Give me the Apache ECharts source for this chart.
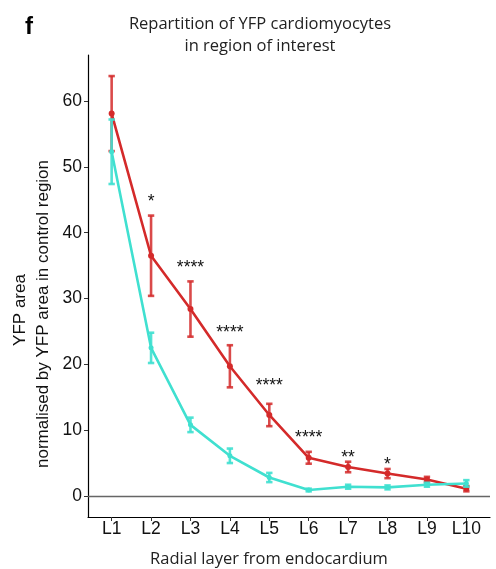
<!DOCTYPE html>
<html><head><meta charset="utf-8">
<script src="https://cdn.jsdelivr.net/npm/echarts@6/dist/echarts.min.js"></script>
<style>html,body{margin:0;padding:0;background:#fff}#c{width:496px;height:569px}</style>
</head><body><div id="c"></div>
<script>
const categories = ['L1','L2','L3','L4','L5','L6','L7','L8','L9','L10'];
const redMean = [58.1, 36.5, 28.4, 19.7, 12.3, 5.8, 4.4, 3.4, 2.5, 1.1];
const redErr  = [5.7, 6.1, 4.2, 3.2, 1.7, 0.9, 0.8, 0.7, 0.4, 0.4];
const cyanMean = [52.3, 22.5, 10.8, 6.1, 2.8, 0.9, 1.4, 1.3, 1.7, 1.9];
const cyanErr  = [4.9, 2.3, 1.1, 1.1, 0.7, 0.2, 0.3, 0.3, 0.3, 0.5];
const sigLabels = ['', '*', '****', '****', '****', '****', '**', '*', '', ''];
const sigY = [null, 45.4, 35.4, 25.5, 17.5, 9.6, 6.5, 5.5, null, null];
const yTicks = [0, 10, 20, 30, 40, 50, 60];

const RED = '#d42a2a', CYAN = '#40e0d0';
const xs = categories.map((c, i) => i + 1);

function errRender(color, opacity) {
  return function (params, api) {
    const x = api.value(0), lo = api.value(1), hi = api.value(2);
    const a = api.coord([x, lo]), b = api.coord([x, hi]);
    const w = 3.2;
    const st = { stroke: color, lineWidth: 2.6, opacity: opacity };
    return { type: 'group', children: [
      { type: 'line', shape: { x1: a[0], y1: a[1], x2: b[0], y2: b[1] }, style: st },
      { type: 'line', shape: { x1: a[0] - w, y1: a[1], x2: a[0] + w, y2: a[1] }, style: st },
      { type: 'line', shape: { x1: b[0] - w, y1: b[1], x2: b[0] + w, y2: b[1] }, style: st }
    ]};
  };
}

const sigData = [];
xs.forEach((x, i) => { if (sigY[i] !== null) sigData.push([x, sigY[i], sigLabels[i]]); });

const chart = echarts.init(document.getElementById('c'), null, { renderer: 'canvas' });
chart.setOption({
  animation: false,
  backgroundColor: '#fff',
  grid: { left: 88, right: 6, top: 55, bottom: 52 },
  xAxis: {
    type: 'value', min: 0.4, max: 10.6,
    axisLine: { onZero: false, lineStyle: { color: '#000', width: 1.2 } },
    axisTick: { show: true, length: 4, customValues: xs, lineStyle: { color: '#333' } },
    axisLabel: { customValues: xs, formatter: v => categories[Math.round(v) - 1], margin: 3,
      fontFamily: 'Liberation Sans', fontSize: 17.5, color: '#111' },
    splitLine: { show: false }
  },
  yAxis: {
    type: 'value', min: -3.2, max: 67,
    axisLine: { show: true, onZero: false, lineStyle: { color: '#000', width: 1.2 } },
    axisTick: { show: true, length: 4, customValues: yTicks, lineStyle: { color: '#333' } },
    axisLabel: { customValues: yTicks, margin: 6, fontFamily: 'Liberation Sans', fontSize: 17.5, color: '#111' },
    splitLine: { show: false }
  },
  graphic: [
    { type: 'text', left: 25, top: 15, style: { text: 'f', font: 'bold 24px "Liberation Sans"', fill: '#000' } },
    { type: 'text', x: 260, y: 24, style: { text: 'Repartition of YFP cardiomyocytes', font: '16.5px "Open Sans"', fill: '#222', textAlign: 'center', textVerticalAlign: 'middle' } },
    { type: 'text', x: 260, y: 46, style: { text: 'in region of interest', font: '16.5px "Open Sans"', fill: '#222', textAlign: 'center', textVerticalAlign: 'middle' } },
    { type: 'text', x: 269, y: 559, style: { text: 'Radial layer from endocardium', font: '16.5px "Open Sans"', fill: '#222', textAlign: 'center', textVerticalAlign: 'middle' } },
    { type: 'text', x: 20, y: 310, rotation: Math.PI / 2, style: { text: 'YFP area', font: '17px "Liberation Sans"', fill: '#111', textAlign: 'center', textVerticalAlign: 'middle' } },
    { type: 'text', x: 43, y: 314, rotation: Math.PI / 2, style: { text: 'normalised by YFP area in control region', font: '17px "Liberation Sans"', fill: '#111', textAlign: 'center', textVerticalAlign: 'middle' } }
  ],
  series: [
    {
      type: 'line', data: xs.map((x, i) => [x, redMean[i]]),
      lineStyle: { color: RED, width: 2.6 }, itemStyle: { color: RED },
      symbol: 'circle', symbolSize: 6, z: 2,
      markLine: { silent: true, symbol: 'none', label: { show: false },
        lineStyle: { color: '#666', width: 1.3, type: 'solid' }, data: [{ yAxis: 0 }] }
    },
    {
      type: 'custom', renderItem: errRender(RED, 0.85), z: 2,
      data: xs.map((x, i) => [x, redMean[i] - redErr[i], redMean[i] + redErr[i]])
    },
    {
      type: 'line', data: xs.map((x, i) => [x, cyanMean[i]]),
      lineStyle: { color: CYAN, width: 2.6 }, itemStyle: { color: CYAN },
      symbol: 'circle', symbolSize: 5, z: 3
    },
    {
      type: 'custom', renderItem: errRender(CYAN, 0.9), z: 3,
      data: xs.map((x, i) => [x, cyanMean[i] - cyanErr[i], cyanMean[i] + cyanErr[i]])
    },
    {
      type: 'custom', z: 4, data: sigData,
      renderItem: function (params, api) {
        const p = api.coord([api.value(0), api.value(1)]);
        const lab = sigData[params.dataIndex][2];
        return { type: 'text', x: p[0], y: p[1] + 5,
          style: { text: lab, font: '17.5px "Liberation Sans"', fill: '#111', textAlign: 'center', textVerticalAlign: 'middle' } };
      }
    }
  ]
});
</script></body></html>
